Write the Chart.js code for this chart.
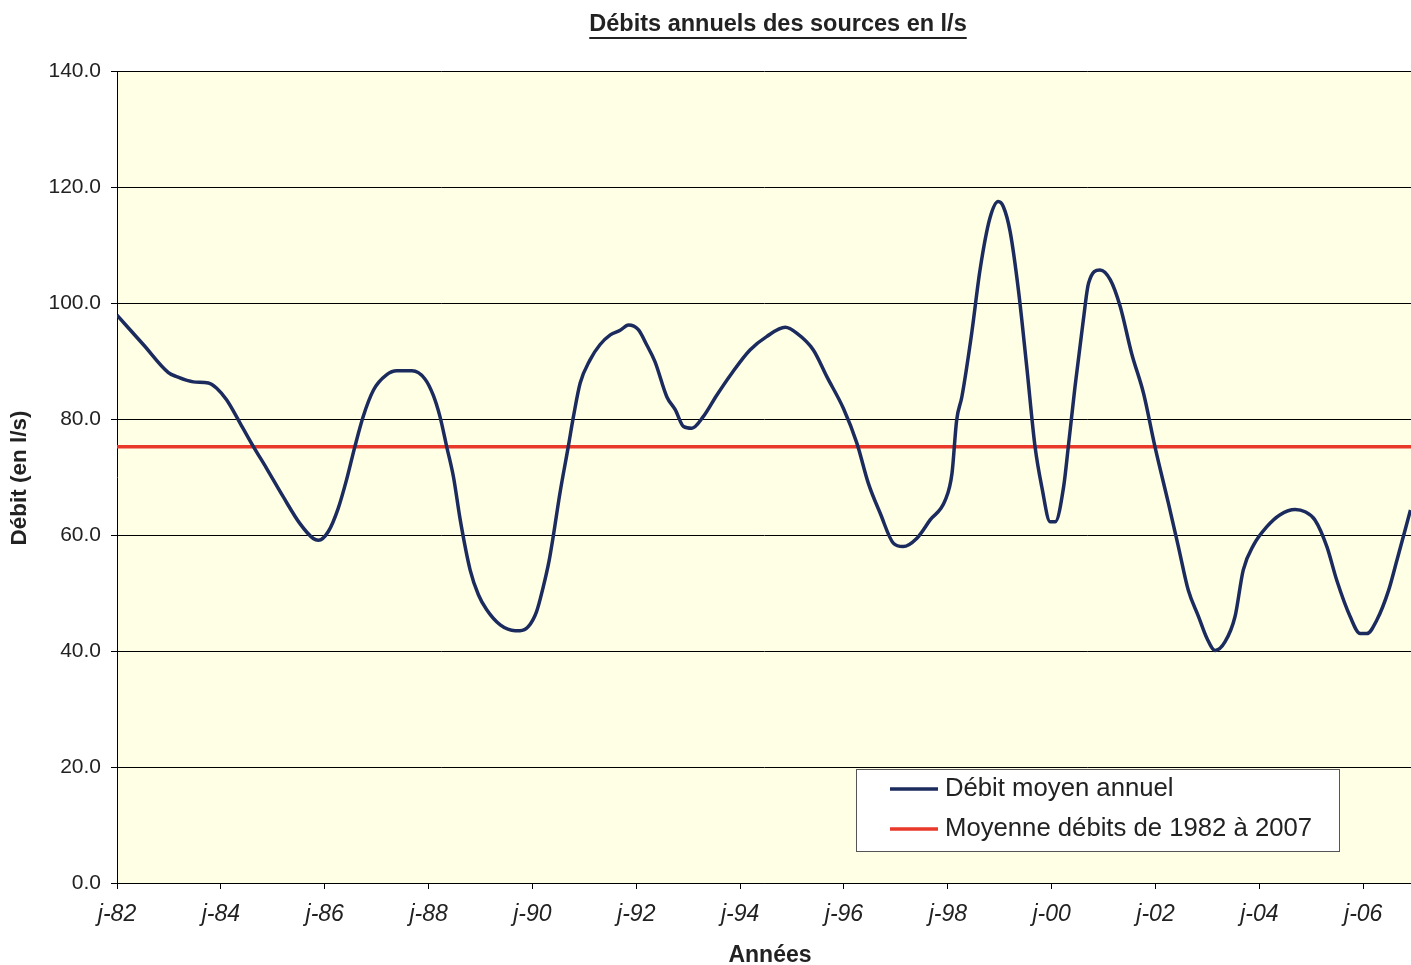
<!DOCTYPE html>
<html lang="fr">
<head>
<meta charset="utf-8">
<title>Débits annuels des sources en l/s</title>
<script src="https://cdn.jsdelivr.net/npm/chart.js@4.4.1/dist/chart.umd.min.js"></script>
<style>
    html, body { margin: 0; padding: 0; background: #fff; }
    #wrap { width: 1411px; height: 965px; }
</style>
</head>
<body>
<div id="wrap"><canvas id="debitChart" width="1411" height="965"></canvas></div>
<script>
// Dates (années décimales) et débits
const annees = [
    1982.00, 1982.51, 1982.99, 1983.15, 1983.47, 1983.76, 1983.92, 1984.11, 1984.37, 1984.63,
    1984.88, 1985.20, 1985.52, 1985.78, 1985.88, 1986.07, 1986.26, 1986.42, 1986.58, 1986.74,
    1986.94, 1987.19, 1987.39, 1987.68, 1987.93, 1988.09, 1988.22, 1988.35, 1988.48, 1988.61,
    1988.80, 1988.96, 1989.12, 1989.38, 1989.67, 1989.76, 1989.92, 1990.08, 1990.21, 1990.32,
    1990.40, 1990.53, 1990.69, 1990.79, 1990.92, 1991.11, 1991.30, 1991.50, 1991.69, 1991.85,
    1992.04, 1992.20, 1992.36, 1992.59, 1992.75, 1992.91, 1993.07, 1993.29, 1993.55, 1993.84,
    1994.19, 1994.51, 1994.87, 1995.09, 1995.41, 1995.67, 1995.99, 1996.25, 1996.47, 1996.70,
    1996.95, 1997.14, 1997.40, 1997.66, 1997.95, 1998.08, 1998.17, 1998.27, 1998.46, 1998.62,
    1998.81, 1998.97, 1999.07, 1999.20, 1999.36, 1999.52, 1999.68, 1999.81, 1999.97, 2000.07,
    2000.23, 2000.32, 2000.45, 2000.61, 2000.71, 2000.93, 2001.13, 2001.32, 2001.54, 2001.77,
    2001.99, 2002.25, 2002.44, 2002.63, 2002.83, 2002.99, 2003.15, 2003.34, 2003.53, 2003.69,
    2003.89, 2004.14, 2004.40, 2004.69, 2004.88, 2005.07, 2005.30, 2005.49, 2005.75, 2005.94,
    2006.07, 2006.26, 2006.49, 2006.65, 2006.91
];
const debits = [
    97.9, 92.8, 88.0, 87.3, 86.4, 86.2, 85.3, 83.3, 79.3, 75.2,
    71.5, 66.6, 62.0, 59.4, 59.1, 60.6, 64.6, 69.5, 75.2, 80.4,
    85.0, 87.6, 88.3, 88.3, 86.9, 84.1, 80.4, 75.2, 70.0, 62.6,
    54.0, 49.7, 47.1, 44.5, 43.5, 43.5, 44.2, 46.8, 51.1, 55.5,
    59.7, 67.2, 75.2, 80.4, 86.2, 90.2, 92.8, 94.5, 95.3, 96.2,
    95.4, 92.8, 89.9, 83.8, 81.6, 78.7, 78.4, 80.4, 84.1, 87.9,
    91.9, 94.2, 95.8, 94.8, 91.9, 87.3, 81.8, 75.8, 68.9, 63.7,
    58.6, 58.0, 59.4, 62.6, 66.0, 70.6, 79.8, 83.8, 94.8, 105.7,
    114.6, 117.5, 116.6, 112.3, 102.2, 89.0, 75.2, 68.3, 62.3, 62.3,
    68.3, 75.2, 85.6, 97.1, 103.4, 105.7, 104.0, 99.4, 91.3, 84.4,
    75.2, 65.4, 58.0, 50.5, 45.9, 42.2, 40.1, 41.6, 45.9, 54.0,
    58.3, 61.4, 63.5, 64.4, 64.0, 62.6, 58.0, 52.2, 45.9, 43.0,
    43.0, 45.3, 50.5, 55.7, 64.3
];
const moyenne = 75.2;
const debutAxe = 1982;
const finAxe = 2006.92;
const etiquettesSeries = ['Débit moyen annuel', 'Moyenne débits de 1982 à 2007'];

const FONT = '"Liberation Sans", Arial, sans-serif';

// Fond, titre, titres d'axes et légende
const decor = {
    id: 'decor',
    beforeDraw(chart) {
        const { ctx, chartArea: a } = chart;
        ctx.save();
        ctx.fillStyle = '#ffffff';
        ctx.fillRect(0, 0, chart.width, chart.height);
        ctx.fillStyle = '#FFFFE6';
        ctx.fillRect(a.left, a.top, a.right - a.left, a.bottom - a.top);
        ctx.restore();
    },
    afterDraw(chart) {
        const ctx = chart.ctx;
        ctx.save();
        ctx.fillStyle = '#222';
        ctx.textBaseline = 'middle';

        // Titre souligné
        const titre = 'Débits annuels des sources en l/s';
        ctx.font = 'bold 23.5px ' + FONT;
        ctx.textAlign = 'center';
        ctx.fillText(titre, 778, 25);
        const w = ctx.measureText(titre).width;
        ctx.fillRect(778 - w / 2, 37, w, 2);

        // Titres d'axes
        ctx.font = 'bold 23px ' + FONT;
        ctx.fillText('Années', 770, 956);
        ctx.font = 'bold 22.5px ' + FONT;
        ctx.translate(20, 478);
        ctx.rotate(-Math.PI / 2);
        ctx.fillText('Débit (en l/s)', 0, 0);
        ctx.setTransform(1, 0, 0, 1, 0, 0);

        // Légende
        const lx = 856, ly = 769, lw = 483, lh = 82;
        ctx.fillStyle = '#fff';
        ctx.fillRect(lx, ly, lw, lh);
        ctx.strokeStyle = '#555';
        ctx.lineWidth = 1;
        ctx.strokeRect(lx + 0.5, ly + 0.5, lw, lh);
        ctx.font = '25.7px ' + FONT;
        ctx.textAlign = 'left';
        chart.data.datasets.forEach((ds, i) => {
            const y = ly + 20 + i * 40;
            ctx.strokeStyle = ds.borderColor;
            ctx.lineWidth = 3.5;
            ctx.beginPath();
            ctx.moveTo(890, y);
            ctx.lineTo(938, y);
            ctx.stroke();
            ctx.fillStyle = '#222';
            ctx.fillText(ds.label, 945, y);
        });
        ctx.restore();
    }
};

const debitChart = new Chart(document.getElementById('debitChart'), {
    type: 'line',
    data: {
        datasets: [{
            label: etiquettesSeries[0],
            data: annees.map((a, i) => ({ x: a, y: debits[i] })),
            borderColor: '#1C2B5E',
            borderWidth: 3.5,
            pointRadius: 0,
            tension: 0.4,
            cubicInterpolationMode: 'monotone'
        }, {
            label: etiquettesSeries[1],
            data: [{ x: debutAxe, y: moyenne }, { x: finAxe, y: moyenne }],
            borderColor: '#E8392B',
            borderWidth: 3.5,
            pointRadius: 0
        }]
    },
    options: {
        responsive: false,
        animation: false,
        devicePixelRatio: 1,
        layout: { padding: { top: 71, right: 0, left: 0, bottom: 0 } },
        plugins: {
            legend: { display: false },
            title: { display: false },
            tooltip: { enabled: false }
        },
        scales: {
            x: {
                type: 'linear',
                min: debutAxe,
                max: finAxe,
                afterFit: s => { s.height = 82; },
                grid: {
                    drawOnChartArea: false,
                    drawTicks: true,
                    tickLength: 6,
                    tickColor: '#000'
                },
                border: { color: '#000', width: 1 },
                ticks: {
                    stepSize: 2,
                    includeBounds: false,
                    maxRotation: 0,
                    padding: 12,
                    color: '#222',
                    font: { family: FONT, size: 23, style: 'italic' },
                    callback: v => 'j-' + String(v).slice(2)
                }
            },
            y: {
                min: 0,
                max: 140,
                afterFit: s => { s.width = 117; },
                grid: {
                    color: '#000',
                    lineWidth: 1,
                    tickLength: 6,
                    tickColor: '#000'
                },
                border: { color: '#000', width: 1 },
                ticks: {
                    stepSize: 20,
                    padding: 10,
                    color: '#222',
                    font: { family: FONT, size: 21 },
                    callback: v => v.toFixed(1)
                }
            }
        }
    },
    plugins: [decor]
});
</script>
</body>
</html>
